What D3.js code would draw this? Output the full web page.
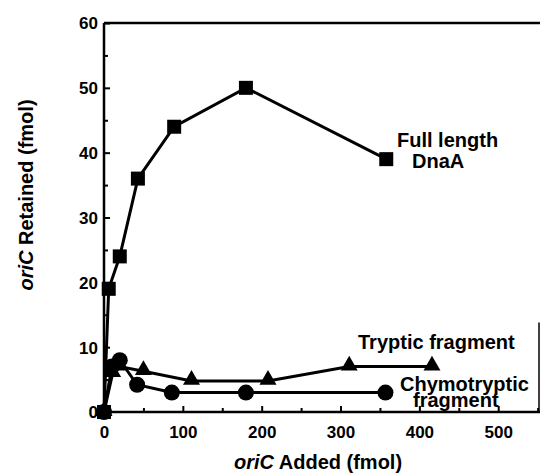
<!DOCTYPE html>
<html>
<head>
<meta charset="utf-8">
<script src="https://cdn.jsdelivr.net/npm/d3@7"></script>
<style>
  body { margin: 0; background: #fff; }
  svg text { font-family: "Liberation Sans", Arial, sans-serif; font-weight: bold; fill: #000; }
</style>
</head>
<body>
<div id="chart"></div>
<script>
// oriC added (fmol) vs oriC retained (fmol)
var fullX = [0, 6, 20, 43, 89, 180, 358];
var fullY = [0, 19, 24, 36, 44, 50, 39];

var trypX = [0, 11, 20, 50, 111, 208, 311, 416];
var trypY = [0, 6, 7, 6.3, 4.8, 4.8, 7, 7];

var chymoX = [0, 10, 20, 42, 86, 180, 357];
var chymoY = [0, 7, 8, 4.2, 3, 3, 3];

var xTicks = [0, 100, 200, 300, 400, 500];
var yTicks = [0, 10, 20, 30, 40, 50, 60];

var margin = {top: 23, right: 1, bottom: 63, left: 104}
    , width = 541 - margin.left - margin.right
    , height = 475 - margin.top - margin.bottom;

var x = d3.scaleLinear()
    .domain([0, 553])
    .range([0, width]);

var y = d3.scaleLinear()
    .domain([0, 60])
    .range([height, 0]);

var svg = d3.select('#chart')
    .append('svg')
    .attr('width', 541)
    .attr('height', 475);

var main = svg.append('g')
    .attr('transform', 'translate(' + margin.left + ',' + margin.top + ')');

// frame: left, bottom, top, part of right
main.append('line').attr('x1', 0).attr('x2', 0).attr('y1', 0).attr('y2', height)
    .attr('stroke', '#000').attr('stroke-width', 2.5);
main.append('line').attr('x1', 0).attr('x2', width).attr('y1', height).attr('y2', height)
    .attr('stroke', '#000').attr('stroke-width', 2.5);
main.append('line').attr('x1', 0).attr('x2', width).attr('y1', 0).attr('y2', 0)
    .attr('stroke', '#000').attr('stroke-width', 2.5);
main.append('line').attr('x1', width - 1).attr('x2', width - 1).attr('y1', y(13.8)).attr('y2', height)
    .attr('stroke', '#000').attr('stroke-width', 1.5);

// x axis (ticks inward)
var xAxis = d3.axisBottom(x)
    .tickValues(d3.range(0, 551, 50))
    .tickSize(-6)
    .tickFormat(function (d) { return xTicks.indexOf(d) >= 0 ? d : ''; });

var gx = main.append('g')
    .attr('transform', 'translate(0,' + height + ')')
    .call(xAxis);
gx.select('.domain').remove();
gx.selectAll('line').attr('stroke-width', 2);
gx.selectAll('line').filter(function (d) { return d % 100 != 0; }).attr('y2', -4);
gx.selectAll('text').attr('dy', 0).attr('y', 26).attr('font-size', 17);

// y axis (ticks inward)
var yAxis = d3.axisLeft(y)
    .tickValues(d3.range(0, 61, 5))
    .tickSize(-6)
    .tickFormat(function (d) { return yTicks.indexOf(d) >= 0 ? d : ''; });

var gy = main.append('g').call(yAxis);
gy.select('.domain').remove();
gy.selectAll('line').attr('stroke-width', 2);
gy.selectAll('line').filter(function (d) { return d % 10 != 0; }).attr('x2', 4);
gy.selectAll('text').attr('x', -6).attr('dy', '0.35em').attr('font-size', 17);

// series
var line = d3.line()
    .x(function (d) { return x(d[0]); })
    .y(function (d) { return y(d[1]); });

var fullData = d3.zip(fullX, fullY);
var trypData = d3.zip(trypX, trypY);
var chymoData = d3.zip(chymoX, chymoY);

[trypData, chymoData, fullData].forEach(function (data) {
    main.append('path')
        .datum(data)
        .attr('d', line)
        .attr('fill', 'none')
        .attr('stroke', '#000')
        .attr('stroke-width', 3);
});

var tri = d3.symbol().type(d3.symbolTriangle).size(125);
main.append('g').selectAll('path')
    .data(trypData)
    .enter()
    .append('path')
    .attr('d', tri)
    .attr('transform', function (d) { return 'translate(' + x(d[0]) + ',' + (y(d[1]) - 1) + ')'; })
    .attr('fill', '#000');

main.append('g').selectAll('circle')
    .data(chymoData)
    .enter()
    .append('circle')
    .attr('cx', function (d) { return x(d[0]); })
    .attr('cy', function (d) { return y(d[1]); })
    .attr('r', 8)
    .attr('fill', '#000');

main.append('g').selectAll('rect')
    .data(fullData)
    .enter()
    .append('rect')
    .attr('x', function (d) { return x(d[0]) - 7; })
    .attr('y', function (d) { return y(d[1]) - 7; })
    .attr('width', 14)
    .attr('height', 14)
    .attr('fill', '#000');

// series labels
var labels = [
    {t: 'Full length', x: 397, y: 147},
    {t: 'DnaA', x: 412, y: 168},
    {t: 'Tryptic fragment', x: 358, y: 349},
    {t: 'Chymotryptic', x: 400, y: 391},
    {t: 'fragment', x: 413, y: 407}
];
svg.append('g').selectAll('text')
    .data(labels)
    .enter()
    .append('text')
    .attr('x', function (d) { return d.x; })
    .attr('y', function (d) { return d.y; })
    .attr('font-size', 20)
    .text(function (d) { return d.t; });

// axis titles
var xt = svg.append('text')
    .attr('x', 318)
    .attr('y', 469)
    .attr('text-anchor', 'middle')
    .attr('font-size', 20);
xt.append('tspan').attr('font-style', 'italic').text('oriC');
xt.append('tspan').text(' Added (fmol)');

var yt = svg.append('text')
    .attr('transform', 'translate(33,195) rotate(-90)')
    .attr('text-anchor', 'middle')
    .attr('font-size', 20);
yt.append('tspan').attr('font-style', 'italic').text('oriC');
yt.append('tspan').text(' Retained (fmol)');
</script>
</body>
</html>
